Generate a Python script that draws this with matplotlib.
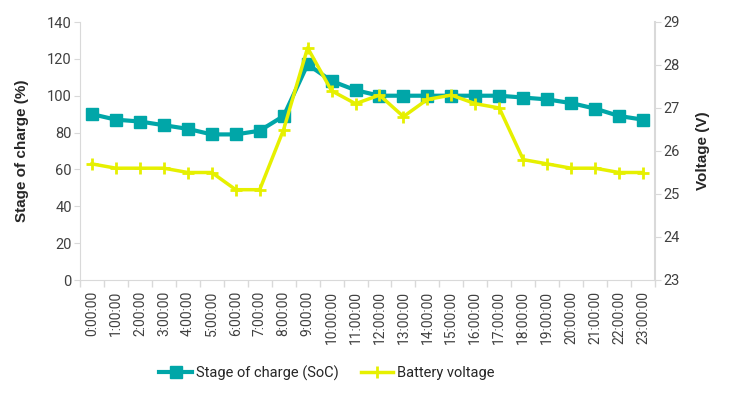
import matplotlib
matplotlib.use("Agg")
import matplotlib.pyplot as plt
import numpy as np

hours = [f"{h}:00:00" for h in range(24)]
soc = [90, 87, 86, 84, 82, 79, 79, 81, 89, 117, 108, 103, 100, 100, 100, 100, 100, 100, 99, 98, 96, 93, 89, 87]
voltage = [25.7, 25.6, 25.6, 25.6, 25.5, 25.5, 25.1, 25.1, 26.5, 28.4, 27.4, 27.1, 27.3, 26.8, 27.2, 27.3, 27.1, 27.0, 25.8, 25.7, 25.6, 25.6, 25.5, 25.5]
left_ticks = [0, 20, 40, 60, 80, 100, 120, 140]
right_ticks = [23, 24, 25, 26, 27, 28, 29]

teal = "#00A6A8"
yellow = "#E6F000"
grid_c = "#D9D9D9"
txt_c = "#404040"
tick_font = "Roboto"
label_font = "Liberation Sans"

fig = plt.figure(figsize=(7.33, 3.99), dpi=100)
ax = fig.add_axes([80/733, 1-280/399, 575/733, 258/399])
ax2 = ax.twinx()

x = np.arange(len(hours))
l1, = ax.plot(x, soc, color=teal, lw=3, marker="s", markersize=8, zorder=3,
              label="Stage of charge (SoC)")
l2, = ax2.plot(x, voltage, color=yellow, lw=2.5, marker="+", markersize=9, mew=2,
               label="Battery voltage", zorder=4)

ax.set_xlim(-0.5, 23.5)
ax.set_ylim(0, 140)
ax2.set_ylim(23, 29)
ax.set_yticks(left_ticks)
ax2.set_yticks(right_ticks)

ax.set_xticks(x)
ax.set_xticklabels(hours, rotation=90, fontsize=10, family=tick_font, color=txt_c)
ax.set_xticks(np.arange(-0.5, 24, 1), minor=True)
ax.tick_params(axis="x", which="major", length=0, pad=8)
ax.tick_params(axis="x", which="minor", length=5, color=grid_c, width=1)

for a in (ax, ax2):
    for s in a.spines.values():
        s.set_visible(False)
ax.spines["left"].set_visible(True)
ax.spines["left"].set_color(grid_c)
ax.spines["bottom"].set_visible(True)
ax.spines["bottom"].set_color(grid_c)
ax2.spines["right"].set_visible(True)
ax2.spines["right"].set_color(grid_c)
ax2.spines["right"].set_linewidth(1.5)

ax.tick_params(axis="y", length=4, color=grid_c, labelsize=10.5, labelcolor=txt_c, pad=2)
ax2.tick_params(axis="y", length=4, color=grid_c, labelsize=10.5, labelcolor=txt_c, pad=2)
for lab in ax.get_yticklabels() + ax2.get_yticklabels():
    lab.set_family(tick_font)

ax.set_ylabel("Stage of charge (%)", fontsize=11, fontweight="bold",
              family=label_font, color="#262626", labelpad=13)
ax2.set_ylabel("Voltage (V)", fontsize=11, fontweight="bold",
               family=label_font, color="#262626", labelpad=12)

leg = fig.legend(handles=[l1, l2], loc="center", bbox_to_anchor=(327/733, 1-373/399),
                 ncol=2, frameon=False, prop={"family": tick_font, "size": 10.5},
                 handlelength=2.2, handletextpad=0.3, columnspacing=1.5)
for t in leg.get_texts():
    t.set_color("#262626")

fig.savefig("out.png", dpi=100)
